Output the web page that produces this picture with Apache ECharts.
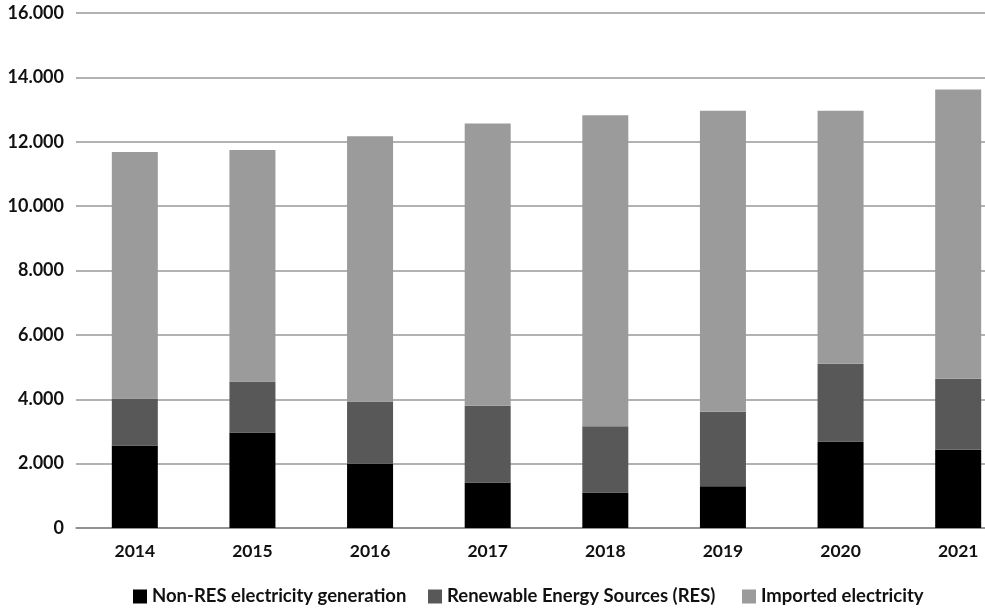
<!DOCTYPE html>
<html>
<head>
<meta charset="utf-8">
<script src="https://cdn.jsdelivr.net/npm/echarts@6/dist/echarts.min.js"></script>
<style>
html,body{margin:0;padding:0;background:#fff;}
#c{width:985px;height:612px;}
</style>
</head>
<body>
<div id="c"></div>
<script>
const categories = ['2014','2015','2016','2017','2018','2019','2020','2021'];
const nonRes   = [2560, 2970, 2000, 1410, 1100, 1300, 2690, 2430];
const resTop   = [4020, 4550, 3930, 3800, 3160, 3610, 5100, 4640];
const totalTop = [11680, 11740, 12170, 12570, 12820, 12960, 12960, 13620];
const res      = resTop.map((v, i) => v - nonRes[i]);
const imported = totalTop.map((v, i) => v - resTop[i]);
const seriesNames = ['Non-RES electricity generation', 'Renewable Energy Sources (RES)', 'Imported electricity'];
const colors = ['#000000', '#585858', '#9b9b9b'];

const font = 'Lato, "Open Sans", sans-serif';
const chart = echarts.init(document.getElementById('c'));
const legendBase = {
  top: 582, itemWidth: 14, itemHeight: 14, icon: 'rect',
  textStyle: {fontFamily: font, fontWeight: 'bold', fontSize: 18.5, color: '#111'},
  itemGap: 8
};
chart.setOption({
  animation: false,
  grid: {left: 76, top: 13, bottom: 84, width: 941, outerBoundsMode: 'none', containLabel: false},
  legend: [
    Object.assign({}, legendBase, {left: 128, data: [seriesNames[0]]}),
    Object.assign({}, legendBase, {left: 423, data: [seriesNames[1]]}),
    Object.assign({}, legendBase, {left: 737, data: [seriesNames[2]]})
  ],
  xAxis: {
    type: 'category', data: categories,
    axisLine: {lineStyle: {color: '#888', width: 1.5}},
    axisTick: {show: false},
    axisLabel: {fontFamily: font, fontWeight: 'bold', fontSize: 17.5, color: '#111', margin: 14}
  },
  yAxis: {
    type: 'value', min: 0, max: 16000, interval: 2000,
    axisLine: {show: false}, axisTick: {show: false},
    splitLine: {lineStyle: {color: '#999', width: 1.5}},
    axisLabel: {
      fontFamily: font, fontWeight: 'bold', fontSize: 18, color: '#111', margin: 12,
      formatter: v => v === 0 ? '0' : String(v).replace(/\B(?=(\d{3})+(?!\d))/g, '.')
    }
  },
  series: [
    {name: seriesNames[0], type: 'bar', stack: 't', data: nonRes, barWidth: 46, itemStyle: {color: colors[0]}},
    {name: seriesNames[1], type: 'bar', stack: 't', data: res, barWidth: 46, itemStyle: {color: colors[1]}},
    {name: seriesNames[2], type: 'bar', stack: 't', data: imported, barWidth: 46, itemStyle: {color: colors[2]}}
  ]
});
</script>
</body>
</html>
